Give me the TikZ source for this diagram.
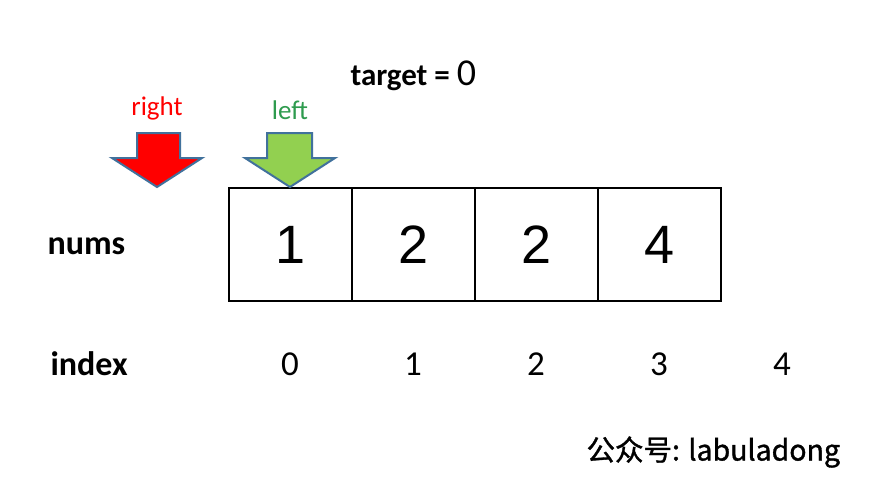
\documentclass[tikz,border=0pt]{standalone}
\usepackage{fontspec}
\setmainfont{Carlito}
\newfontfamily\numfont{Liberation Sans}
\newfontfamily\cjk[FakeBold=1.2]{Noto Sans CJK SC}
\definecolor{arrowedge}{HTML}{41719C}
\definecolor{redfill}{HTML}{FF0000}
\definecolor{greenfill}{HTML}{92D050}
\definecolor{leftgreen}{HTML}{2E9B4E}
\begin{document}
\begin{tikzpicture}[x=1pt,y=-1pt,
  cell/.style={draw=black,line width=2.8pt,minimum width=123pt,minimum height=113pt,inner sep=0pt,font=\numfont\fontsize{54}{60}\selectfont},
  idx/.style={font=\fontsize{35}{40}\selectfont},
  lbl/.style={font=\bfseries\fontsize{34}{38}\selectfont},
  ptr/.style={font=\fontsize{27}{30}\selectfont},
  downarrow/.style={draw=arrowedge,line width=2pt,line join=miter}]
\useasboundingbox (0,0) rectangle (874,482);
\fill[white] (0,0) rectangle (874,482);
% cells
\node[cell] (c0) at (290.5,244.5) {1};
\node[cell] (c1) at (413.5,244.5) {2};
\node[cell] (c2) at (536.5,244.5) {2};
\node[cell] (c3) at (659.5,244.5) {4};
% indices
\node[idx] (i0) at (290,364) {0};
\node[idx] (i1) at (413,364) {1};
\node[idx] (i2) at (536,364) {2};
\node[idx] (i3) at (659,364) {3};
\node[idx] (i4) at (782,364) {4};
% labels
\node[lbl,anchor=west] (nums) at (44,246) {nums};
\node[lbl,anchor=west] (index) at (47,364) {index};
\node[anchor=west,font=\bfseries\fontsize{31}{36}\selectfont] (target) at (347,76) {target = {\mdseries\fontsize{38}{40}\selectfont 0}};
% arrows
\draw[downarrow,fill=redfill] (137,133) -- (180,133) -- (180,158) -- (202,158) -- (157,187) -- (112,158) -- (137,158) -- cycle;
\draw[downarrow,fill=greenfill] (267,133) -- (312,133) -- (312,158) -- (335,158) -- (290,187) -- (245,158) -- (267,158) -- cycle;
\node[ptr,text=redfill] (right) at (157,108) {right};
\node[ptr,text=leftgreen] (left) at (290,110) {left};
% watermark
\node[anchor=west,font=\cjk\fontsize{28.5}{31}\selectfont] (wm) at (583,452) {公众号: labuladong};
\end{tikzpicture}
\end{document}
